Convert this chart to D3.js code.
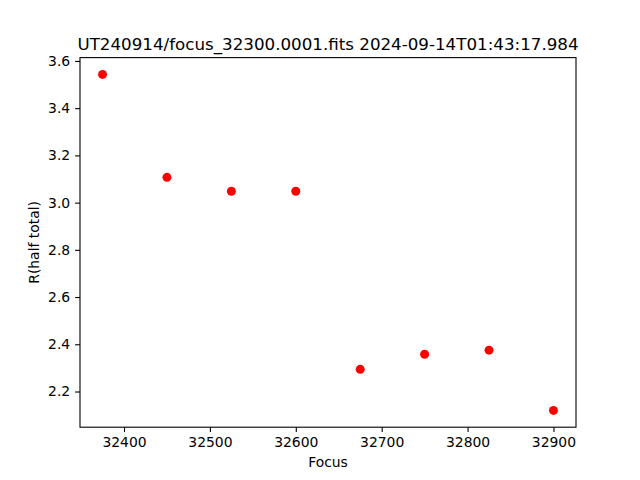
<!DOCTYPE html>
<html>
<head>
<meta charset="utf-8">
<script src="https://cdn.jsdelivr.net/npm/d3@7"></script>
<style>
  body { margin: 0; background: #fff; }
  svg { display: block; font-family: "DejaVu Sans", sans-serif; }
</style>
</head>
<body>
<script>
// focus positions and measured half-total radius
var focus = [32375, 32450, 32525, 32600, 32675, 32750, 32825, 32900];
var rHalf = [3.543, 3.107, 3.048, 3.048, 2.294, 2.358, 2.375, 2.120];
var xTicks = [32400, 32500, 32600, 32700, 32800, 32900];
var yTicks = [2.2, 2.4, 2.6, 2.8, 3.0, 3.2, 3.4, 3.6];

var W = 640, H = 480;
var m = {left: 80, right: 576, top: 57.6, bottom: 427.2};
var fs = 13.9, tfs = 16.7; // 10pt / 12pt at 100 dpi

var svg = d3.select("body").append("svg")
    .attr("width", W).attr("height", H);

// matplotlib style 5% margins
var xmin = d3.min(focus), xmax = d3.max(focus), xr = xmax - xmin;
var ymin = d3.min(rHalf), ymax = d3.max(rHalf), yr = ymax - ymin;

var x = d3.scaleLinear()
    .domain([xmin - 0.05 * xr, xmax + 0.05 * xr])
    .range([m.left, m.right]);
var y = d3.scaleLinear()
    .domain([ymin - 0.05 * yr, ymax + 0.05 * yr])
    .range([m.bottom, m.top]);

var xAxis = svg.append("g")
    .attr("transform", "translate(0," + m.bottom + ")")
    .call(d3.axisBottom(x).tickValues(xTicks).tickSize(4.9).tickPadding(4.9).tickFormat(d3.format("d")));
var yAxis = svg.append("g")
    .attr("transform", "translate(" + m.left + ",0)")
    .call(d3.axisLeft(y).tickValues(yTicks).tickSize(4.9).tickPadding(4.9).tickFormat(d3.format(".1f")));

[xAxis, yAxis].forEach(function(g) {
  g.select(".domain").remove();
  g.selectAll("text").attr("font-size", fs).attr("fill", "#000")
    .attr("font-family", "DejaVu Sans, sans-serif");
  g.selectAll("line").attr("stroke", "#000").attr("stroke-width", 1.1);
});

// frame
svg.append("rect")
    .attr("x", m.left).attr("y", m.top)
    .attr("width", m.right - m.left).attr("height", m.bottom - m.top)
    .attr("fill", "none").attr("stroke", "#000").attr("stroke-width", 1.1);

// points
svg.selectAll("circle.pt")
    .data(focus)
    .enter().append("circle")
    .attr("class", "pt")
    .attr("cx", function(d) { return x(d); })
    .attr("cy", function(d, i) { return y(rHalf[i]); })
    .attr("r", 4.5)
    .attr("fill", "#ff0000");

// labels
svg.append("text")
    .attr("x", (m.left + m.right) / 2).attr("y", m.top - 7.5)
    .attr("text-anchor", "middle").attr("font-size", tfs)
    .text("UT240914/focus_32300.0001.fits 2024-09-14T01:43:17.984");

svg.append("text")
    .attr("x", (m.left + m.right) / 2).attr("y", 467)
    .attr("text-anchor", "middle").attr("font-size", fs)
    .text("Focus");

svg.append("text")
    .attr("transform", "translate(39," + ((m.top + m.bottom) / 2) + ") rotate(-90)")
    .attr("text-anchor", "middle").attr("font-size", fs)
    .text("R(half total)");
</script>
</body>
</html>
